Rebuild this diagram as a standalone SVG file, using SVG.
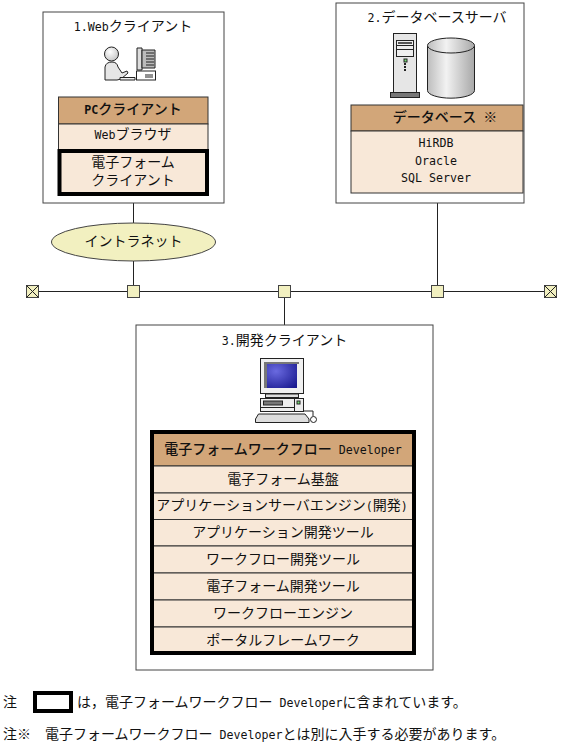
<svg xmlns="http://www.w3.org/2000/svg" width="561" height="747" viewBox="0 0 561 747">
<style>
text{font-family:"Noto Sans CJK JP","Noto Sans CJK SC",sans-serif;font-size:14px;fill:#111;text-anchor:middle}
.s{text-anchor:start}
.b{font-weight:500}
.l{font-family:"DejaVu Sans Mono",monospace;font-size:11.63px}
.box{fill:#fff;stroke:#444;stroke-width:1}
.hd{fill:#d2a679;stroke:#333;stroke-width:1}
.bd{fill:#f8e8d8;stroke:#333;stroke-width:1}
.th{fill:none;stroke:#000;stroke-width:4}
.nd{fill:#f2f0c0;stroke:#444;stroke-width:1}
.wire{fill:none;stroke:#222;stroke-width:1}
.ic{stroke:#222;stroke-width:1}
</style>
<defs>
<linearGradient id="cyl" x1="0" x2="1" y1="0" y2="0"><stop offset="0" stop-color="#bdbdbd"/><stop offset=".4" stop-color="#f2f2f2"/><stop offset="1" stop-color="#a8a8a8"/></linearGradient>
<radialGradient id="scr" cx=".3" cy=".3" r=".9"><stop offset="0" stop-color="#6a6ae0"/><stop offset="1" stop-color="#1a1a90"/></radialGradient>
<radialGradient id="hdg" cx=".4" cy=".35" r=".8"><stop offset="0" stop-color="#fff"/><stop offset="1" stop-color="#bbb"/></radialGradient>
</defs>

<g id="connectors">
<path class="wire" d="M133.500 203V223M133.500 261V285M32 291.500H551M437.500 203V285M284.500 298V325"/>
</g>

<g id="web-client">
<rect class="box" x="43" y="12" width="181" height="191"/>
<text x="133" y="31"><tspan class="l">1.Web</tspan>クライアント</text>
<g class="ic">
<circle cx="111.500" cy="54" r="7" fill="url(#hdg)"/>
<path d="M105 80V67Q106 62 112 62Q117 62 118 67L122 73L127 71L128 73L121 79L117 80Z" fill="#e6e6e6"/>
<path d="M120 77.500H135V80H120Z" fill="#eee"/>
<path d="M137 48H142V70H137Z" fill="#ddd"/>
<path d="M142 50H155V68H142Z" fill="#bbb"/>
<path d="M146 53H154M146 56H154M146 59H154M146 62H154M146 65H154" fill="none"/>
<rect x="136.500" y="71" width="19" height="9" fill="#fff"/>
<path d="M146 74V78M148 74V78M150 74V78M152 74V78" fill="none"/>
</g>
<rect class="hd" x="58.500" y="97" width="149.500" height="27"/>
<text class="b" x="133" y="114"><tspan class="l" font-weight="700">PC</tspan>クライアント</text>
<rect class="bd" x="58.500" y="124" width="149.500" height="26"/>
<text x="133" y="139"><tspan class="l">Web</tspan>ブラウザ</text>
<rect class="bd" x="59.500" y="151" width="147.500" height="43" stroke="none"/>
<rect class="th" x="59.500" y="151" width="147.500" height="43"/>
<text x="133" y="167">電子フォーム</text>
<text x="133" y="185">クライアント</text>
</g>

<g id="db-server">
<rect class="box" x="336" y="3" width="188" height="200"/>
<text x="437" y="22"><tspan class="l">2.</tspan>データベースサーバ</text>
<g class="ic">
<rect x="393.500" y="33.500" width="23" height="60" fill="#e6e6e6"/>
<rect x="396.500" y="40.500" width="17" height="16" fill="#eee"/>
<path d="M396.500 45.500H413.500M396.500 49.500H413.500" fill="none"/>
<rect x="398" y="42" width="14" height="2" fill="#555" stroke="none"/>
<rect x="404" y="59" width="3" height="3" fill="#7d7" stroke="#222"/>
<path d="M405 63V71" stroke-width="2" stroke-dasharray="2 1" fill="none"/>
<rect x="390.500" y="92.500" width="29" height="5" fill="#777"/>
<path d="M427.500 46V90.500A23 7.500 0 0 0 474.500 90.500V46Z" fill="url(#cyl)"/>
<ellipse cx="451" cy="45.500" rx="23.500" ry="7.500" fill="url(#cyl)"/>
</g>
<rect class="hd" x="351" y="105" width="172" height="26"/>
<text class="b" x="445" y="122">データベース<tspan class="l"> </tspan>※</text>
<rect class="bd" x="351" y="131" width="172" height="62"/>
<text class="l" x="436" y="147">HiRDB</text>
<text class="l" x="436" y="165">Oracle</text>
<text class="l" x="436" y="182">SQL Server</text>
</g>

<g id="intranet">
<ellipse class="nd" cx="133.500" cy="242" rx="82" ry="19"/>
<text x="133.500" y="246">イントラネット</text>
</g>

<g id="bus-nodes">
<g id="term-left"><rect class="nd" x="26.500" y="285.500" width="12" height="12"/><path class="wire" d="M26.500 285.500L38.500 297.500M38.500 285.500L26.500 297.500"/></g>
<g id="hub-1"><rect class="nd" x="127.500" y="285.500" width="12" height="12"/></g>
<g id="hub-2"><rect class="nd" x="278.500" y="285.500" width="12" height="12"/></g>
<g id="hub-3"><rect class="nd" x="431.500" y="285.500" width="12" height="12"/></g>
<g id="term-right"><rect class="nd" x="544.500" y="285.500" width="12" height="12"/><path class="wire" d="M544.500 285.500L556.500 297.500M556.500 285.500L544.500 297.500"/></g>
</g>

<g id="dev-client">
<rect class="box" x="136" y="325" width="297" height="345"/>
<text x="284.500" y="345"><tspan class="l">3.</tspan>開発クライアント</text>
<g class="ic">
<rect x="260.500" y="358.500" width="43" height="35" fill="#f0f0f0"/>
<path d="M264 362H299V364H267V388H264Z" fill="#777" stroke="none"/>
<rect x="267" y="364" width="30" height="24" fill="url(#scr)" stroke="none"/>
<rect x="265.500" y="394" width="33" height="3.500" fill="#ddd"/>
<rect x="260.500" y="398.500" width="43" height="13" fill="#eee"/>
<rect x="263.500" y="401" width="19" height="4" fill="#777"/>
<path d="M294.500 398.500V411.500M260.500 407.500H294.500" fill="none"/>
<rect x="297" y="401" width="3" height="3" fill="#7d7"/>
<path d="M258.500 414H305L309 419V422.500H255.500V419Z" fill="#ddd"/>
<path d="M304 411H313V416" fill="none"/>
<circle cx="313.500" cy="419.500" r="3" fill="#fff"/>
</g>
<rect class="hd" x="152" y="432" width="262" height="34"/>
<text class="b" x="283" y="454">電子フォームワークフロー<tspan class="l"> Developer</tspan></text>
<rect class="bd" x="152" y="466" width="262" height="27"/>
<text x="283" y="484">電子フォーム基盤</text>
<rect class="bd" x="152" y="493" width="262" height="26.500"/>
<text x="282" y="510">アプリケーションサーバエンジン<tspan class="l">(</tspan>開発<tspan class="l">)</tspan></text>
<rect class="bd" x="152" y="519.500" width="262" height="26.500"/>
<text x="283" y="537">アプリケーション開発ツール</text>
<rect class="bd" x="152" y="546" width="262" height="27"/>
<text x="283" y="564">ワークフロー開発ツール</text>
<rect class="bd" x="152" y="573" width="262" height="27"/>
<text x="283" y="591">電子フォーム開発ツール</text>
<rect class="bd" x="152" y="600" width="262" height="27"/>
<text x="283" y="618">ワークフローエンジン</text>
<rect class="bd" x="152" y="627" width="262" height="26"/>
<text x="283" y="645">ポータルフレームワーク</text>
<rect class="th" x="152" y="432" width="262" height="221"/>
</g>

<g id="notes">
<text class="s" x="3" y="707">注</text>
<rect class="th" x="35" y="693" width="36" height="18"/>
<text class="s" x="77" y="707">は，電子フォームワークフロー<tspan class="l"> Developer</tspan>に含まれています。</text>
<text class="s" x="3" y="739">注※</text>
<text class="s" x="45" y="739">電子フォームワークフロー<tspan class="l"> Developer</tspan>とは別に入手する必要があります。</text>
</g>
</svg>
